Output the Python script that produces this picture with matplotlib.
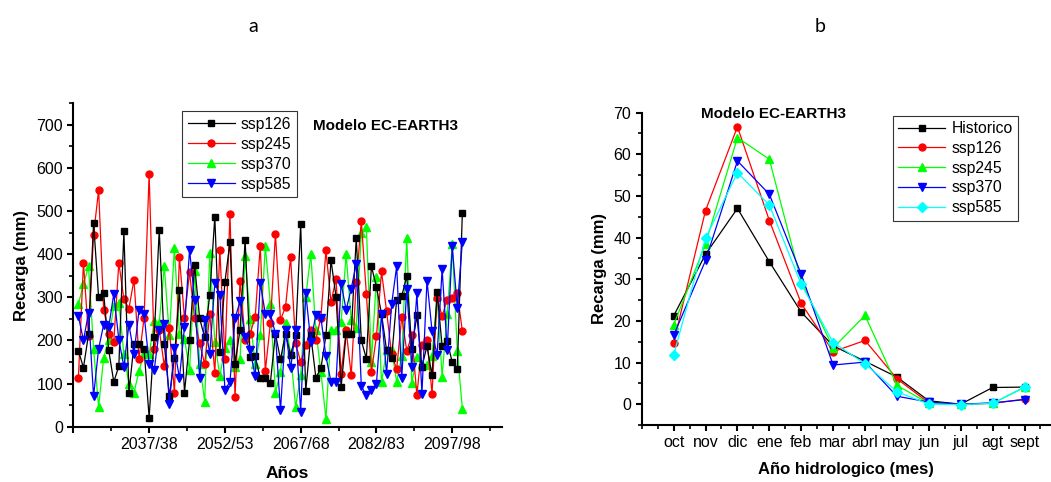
import matplotlib
matplotlib.use("Agg")
import matplotlib.pyplot as plt
from matplotlib.ticker import MultipleLocator, FixedLocator
import numpy as np

plt.rcParams['font.family'] = ['Liberation Sans', 'DejaVu Sans']

# ---- panel a: annual recharge by scenario ----
years = np.arange(2023, 2100)
year_labels = ['', '2037/38', '2052/53', '2067/68', '2082/83', '2097/98']

ssp126 = [176, 137, 214, 473, 300, 310, 177, 104, 140, 453,
          79, 191, 191, 180, 21, 207, 457, 192, 71, 159,
          316, 79, 200, 376, 251, 207, 305, 487, 173, 335,
          428, 146, 225, 434, 162, 163, 112, 112, 102, 216,
          156, 216, 166, 212, 469, 82, 212, 114, 135, 212,
          386, 301, 92, 216, 216, 437, 200, 158, 372, 324,
          262, 177, 159, 295, 303, 349, 181, 258, 139, 187,
          119, 312, 187, 199, 149, 133, 495]
ssp245 = [114, 380, 210, 445, 549, 271, 216, 197, 380, 296,
          274, 341, 158, 252, 586, 181, 225, 141, 229, 79,
          393, 252, 359, 251, 193, 145, 262, 125, 410, 158,
          494, 68, 339, 202, 216, 255, 419, 129, 240, 447,
          248, 278, 393, 193, 150, 189, 225, 202, 253, 409,
          289, 343, 123, 224, 119, 335, 477, 308, 127, 210,
          360, 268, 168, 133, 255, 176, 212, 73, 190, 202,
          77, 298, 256, 295, 299, 310, 222]
ssp370 = [285, 330, 372, 181, 46, 160, 202, 280, 288, 168,
          99, 79, 129, 172, 168, 244, 241, 372, 212, 414,
          216, 204, 131, 362, 146, 58, 402, 197, 117, 183,
          200, 139, 158, 395, 249, 146, 212, 419, 284, 79,
          127, 240, 170, 46, 119, 301, 400, 224, 127, 19,
          224, 224, 243, 400, 247, 230, 449, 463, 150, 347,
          104, 177, 179, 104, 163, 437, 102, 162, 146, 143,
          163, 302, 116, 262, 423, 176, 42]
ssp585 = [256, 200, 264, 71, 181, 237, 231, 308, 202, 139,
          237, 168, 271, 261, 146, 131, 224, 239, 52, 183,
          112, 231, 410, 295, 114, 247, 168, 333, 306, 86,
          104, 251, 291, 207, 177, 117, 333, 262, 262, 216,
          38, 225, 135, 225, 35, 310, 197, 260, 253, 163,
          104, 104, 332, 271, 320, 378, 94, 73, 85, 100,
          262, 123, 284, 372, 112, 320, 139, 310, 77, 339,
          222, 166, 365, 179, 418, 276, 428]

# ---- panel b: monthly mean recharge ----
months = ['oct', 'nov', 'dic', 'ene', 'feb', 'mar', 'abrl', 'may', 'jun', 'jul', 'agt', 'sept']
historico = [21.2, 36.0, 47.0, 34.2, 22.1, 14.0, 10.3, 6.5, 0.8, 0.0, 4.0, 4.1]
m_ssp126 = [14.8, 46.5, 66.6, 44.1, 24.2, 12.6, 15.3, 6.1, 0.3, 0.0, 0.2, 1.2]
m_ssp245 = [19.0, 38.5, 64.0, 58.8, 29.5, 13.5, 21.3, 4.5, 0.2, 0.0, 0.2, 4.1]
m_ssp370 = [16.5, 34.5, 58.4, 50.4, 31.2, 9.4, 10.1, 1.9, 0.5, 0.0, 0.3, 1.1]
m_ssp585 = [11.8, 39.8, 55.6, 47.8, 28.8, 14.8, 9.7, 3.0, 0.0, -0.1, 0.2, 4.0]

fig = plt.figure(figsize=(10.51, 4.82), dpi=100)
ax1 = fig.add_axes([0.0698, 0.1147, 0.4076, 0.671])
ax2 = fig.add_axes([0.6106, 0.1183, 0.3885, 0.648])


def style_axes(ax):
    for s in ['top', 'right']:
        ax.spines[s].set_visible(False)
    for s in ['left', 'bottom']:
        ax.spines[s].set_linewidth(1.5)
    ax.tick_params(which='major', direction='out', length=4, width=1.5, labelsize=11.5)
    ax.tick_params(which='minor', direction='out', length=3, width=1.2)


lw = 0.9
ax1.plot(years, ssp126, '-s', color='black', lw=lw, ms=4.5, label='ssp126', zorder=4)
ax1.plot(years, ssp245, '-o', color='#ff0000', lw=lw, ms=5, label='ssp245', zorder=3)
ax1.plot(years, ssp370, '-^', color='#00ff00', lw=lw, ms=6, label='ssp370', zorder=2)
ax1.plot(years, ssp585, '-v', color='#0000ff', lw=lw, ms=6, label='ssp585', zorder=5)
ax1.set_xlim(2022, 2106.8)
ax1.set_ylim(0, 750)
ax1.xaxis.set_major_locator(FixedLocator([2022, 2037, 2052, 2067, 2082, 2097]))
ax1.set_xticklabels(year_labels)
ax1.xaxis.set_minor_locator(FixedLocator([2029.5, 2044.5, 2059.5, 2074.5, 2089.5, 2104.5]))
ax1.yaxis.set_major_locator(MultipleLocator(100))
ax1.yaxis.set_minor_locator(MultipleLocator(50))
style_axes(ax1)
ax1.set_xlabel('Años', fontsize=12.5, fontweight='bold', labelpad=10)
ax1.set_ylabel('Recarga (mm)', fontsize=12, fontweight='bold', labelpad=5)
ax1.text(0.559, 0.931, 'Modelo EC-EARTH3', transform=ax1.transAxes, fontsize=11,
         fontweight='bold', va='center')
leg1 = ax1.legend(loc='upper left', bbox_to_anchor=(0.254, 0.976), fontsize=11.3, frameon=True,
                  fancybox=False, edgecolor='black', handlelength=3, borderpad=0.35,
                  labelspacing=0.32, handletextpad=0.4, borderaxespad=0)
leg1.get_frame().set_linewidth(0.8)

x2 = np.arange(1, len(months) + 1)
ax2.plot(x2, historico, '-s', color='black', lw=lw, ms=4.5, label='Historico')
ax2.plot(x2, m_ssp126, '-o', color='#ff0000', lw=lw, ms=5, label='ssp126')
ax2.plot(x2, m_ssp245, '-^', color='#00ff00', lw=lw, ms=6, label='ssp245')
ax2.plot(x2, m_ssp370, '-v', color='#0000ff', lw=lw, ms=6, label='ssp370')
ax2.plot(x2, m_ssp585, '-D', color='#00ffff', lw=lw, ms=5, label='ssp585')
ax2.set_xlim(0, 12.8)
ax2.set_ylim(-5, 70)
ax2.set_xticks(x2)
ax2.set_xticklabels(months)
ax2.xaxis.set_minor_locator(MultipleLocator(0.5))
ax2.yaxis.set_major_locator(MultipleLocator(10))
ax2.yaxis.set_minor_locator(MultipleLocator(5))
style_axes(ax2)
ax2.set_xlabel('Año hidrologico (mes)', fontsize=12, fontweight='bold', labelpad=8)
ax2.set_ylabel('Recarga (mm)', fontsize=12, fontweight='bold', labelpad=5)
ax2.text(0.1445, 0.995, 'Modelo EC-EARTH3', transform=ax2.transAxes, fontsize=11,
         fontweight='bold', va='center')
leg2 = ax2.legend(loc='upper left', bbox_to_anchor=(0.615, 0.99), fontsize=11.3, frameon=True,
                  fancybox=False, edgecolor='black', handlelength=3, borderpad=0.35,
                  labelspacing=0.3, handletextpad=0.4, borderaxespad=0)
leg2.get_frame().set_linewidth(0.8)

fig.text(0.241, 0.945, 'a', fontsize=14, family=['Lato', 'DejaVu Sans'], ha='center', va='center')
fig.text(0.780, 0.945, 'b', fontsize=14, family=['Lato', 'DejaVu Sans'], ha='center', va='center')

fig.savefig('out.png', dpi=100)
